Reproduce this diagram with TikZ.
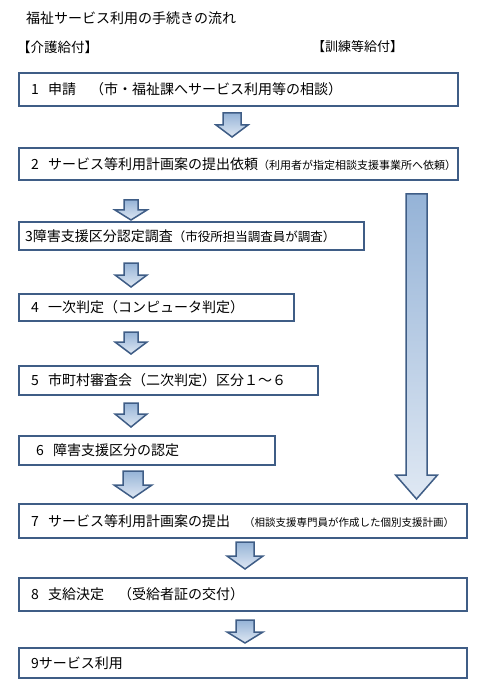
\documentclass[tikz,border=0pt]{standalone}
\usepackage{fontspec}
\setmainfont{Noto Sans CJK JP}
\definecolor{boxline}{HTML}{3F5D86}
\definecolor{arrowtop}{HTML}{95B3D7}
\definecolor{arrowbot}{HTML}{DFE8F3}
\newcommand{\smalltxtfont}{\fontsize{10.5}{12}\selectfont}
% block arrow: centre x, top y, neck y, tip y, stem half width, head half width
\newcommand{\blockarrow}[6]{%
\draw [boxline, line width=1.5pt, line join=miter, top color=arrowtop, bottom color=arrowbot]
  ({#1-#5},#2) -- ({#1+#5},#2) -- ({#1+#5},#3) -- ({#1+#6},#3) -- (#1,#4)
  -- ({#1-#6},#3) -- ({#1-#5},#3) -- cycle;}
\begin{document}
\begin{tikzpicture}[x=1pt,y=-1pt]
\tikzstyle{every node}+=[inner sep=0pt]
\tikzstyle{stepbox}=[draw=boxline, line width=2pt, fill=white, anchor=north west, align=left, inner xsep=12pt, font=\fontsize{14}{16}\selectfont]
\useasboundingbox (0,0) rectangle (488,684);
\node [anchor=west, font=\fontsize{14}{16}\selectfont] (title) at (26,18) {福祉サービス利用の手続きの流れ};
\node [anchor=west, font=\fontsize{13.5}{15}\selectfont] (kaigo) at (17,47) {【介護給付】};
\node [anchor=west, font=\fontsize{13}{15}\selectfont] (kunren) at (312,47) {【訓練等給付】};
\node [stepbox, text width=415pt, minimum height=33pt] (s1) at (18,72) {1\ \ 申請\quad（市・福祉課へサービス利用等の相談）};
\node [stepbox, text width=415pt, minimum height=32pt] (s2) at (18,147) {2\ \ サービス等利用計画案の提出依頼{\fontsize{11}{12}\selectfont（利用者が指定相談支援事業所へ依頼）}};
\node [stepbox, text width=333pt, minimum height=28pt, inner xsep=6pt] (s3) at (18,221) {3障害支援区分認定調査{\fontsize{12.5}{14}\selectfont（市役所担当調査員が調査）}};
\node [stepbox, text width=251pt, minimum height=27pt] (s4) at (18,293) {4\ \ 一次判定（コンピュータ判定）};
\node [stepbox, text width=275pt, minimum height=29pt] (s5) at (18,365) {5\ \ 市町村審査会（二次判定）区分１～６};
\node [stepbox, text width=222pt, minimum height=29pt, inner xsep=17pt] (s6) at (18,435) {6\ \ 障害支援区分の認定};
\node [stepbox, text width=424pt, minimum height=34pt] (s7) at (18,503) {7\ \ サービス等利用計画案の提出\quad{\smalltxtfont（相談支援専門員が作成した個別支援計画）}};
\node [stepbox, text width=424pt, minimum height=33pt] (s8) at (18,577) {8\ \ 支給決定\quad（受給者証の交付）};
\node [stepbox, text width=424pt, minimum height=30pt] (s9) at (18,647) {9サービス利用};
\blockarrow{232}{113}{125}{137}{9}{16}
\blockarrow{131}{200}{210}{220}{7}{16}
\blockarrow{131}{263}{275}{287}{7}{16}
\blockarrow{131}{332}{342}{354}{7}{16}
\blockarrow{131}{403}{414}{427}{7}{16}
\blockarrow{133}{471}{485}{498}{10}{19}
\blockarrow{245}{542}{556}{569}{9}{18}
\blockarrow{245}{620}{632}{643}{9}{18}
\blockarrow{416.5}{194}{475}{499}{10.5}{21}
\end{tikzpicture}
\end{document}
